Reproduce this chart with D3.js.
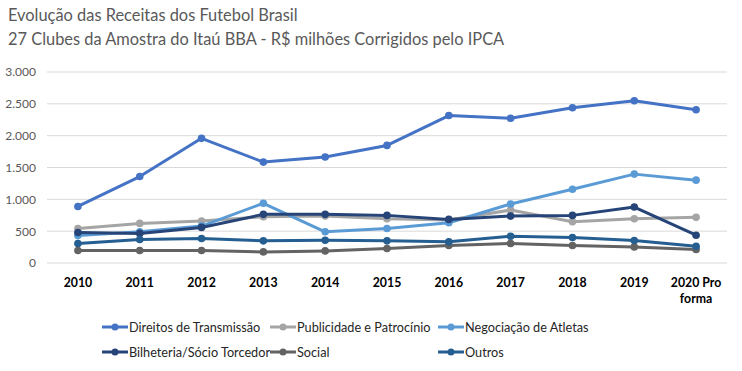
<!DOCTYPE html>
<html>
<head>
<meta charset="utf-8">
<script src="https://cdn.jsdelivr.net/npm/d3@7"></script>
<style>
  body { margin: 0; background: #fff; }
  svg { font-family: Lato, "Open Sans", sans-serif; }
</style>
</head>
<body>
<svg width="742" height="371"></svg>
<script>
const width = 742
const height = 371

const years = ["2010", "2011", "2012", "2013", "2014", "2015", "2016", "2017", "2018", "2019", "2020 Pro forma"]
const yTicks = [0, 500, 1000, 1500, 2000, 2500, 3000]

const seriesNames = ["Direitos de Transmissão", "Publicidade e Patrocínio", "Negociação de Atletas",
                     "Bilheteria/Sócio Torcedor", "Social", "Outros"]
const seriesColors = ["#4472C4", "#A5A5A5", "#5B9BD5", "#264478", "#636363", "#255E91"]

const direitos    = [888, 1358, 1958, 1585, 1664, 1847, 2316, 2274, 2438, 2548, 2406]
const publicidade = [543, 622, 658, 726, 740, 695, 674, 832, 647, 695, 717]
const negociacao  = [430, 490, 580, 938, 490, 543, 632, 927, 1159, 1396, 1301]
const bilheteria  = [480, 465, 559, 764, 764, 748, 685, 737, 748, 879, 437]
const social      = [196, 196, 196, 174, 190, 227, 275, 306, 275, 253, 212]
const outros      = [306, 370, 385, 348, 358, 348, 332, 421, 401, 353, 264]

const allSeries = [direitos, publicidade, negociacao, bilheteria, social, outros]

function draw(){
    var svg = d3.select("svg")

    // titulo
    svg.append("text").attr("x", 8).attr("y", 21)
       .attr("font-size", 16.4).attr("fill", "#595959")
       .text("Evolução das Receitas dos Futebol Brasil")
    svg.append("text").attr("x", 8).attr("y", 45)
       .attr("font-size", 16.4).attr("fill", "#595959")
       .text("27 Clubes da Amostra do Itaú BBA - R$ milhões Corrigidos pelo IPCA")

    var scaleX = d3.scaleBand().domain(years).range([47, 727])
    var scaleY = d3.scaleLinear().domain([0, 3000]).range([263, 72])
    var cx = function(i){ return scaleX(years[i]) + scaleX.bandwidth() / 2 }

    // grid
    svg.append("g").selectAll("line").data(yTicks).enter().append("line")
       .attr("x1", 47).attr("x2", 727)
       .attr("y1", d => scaleY(d)).attr("y2", d => scaleY(d))
       .attr("stroke", "#d9d9d9").attr("stroke-width", 1)

    // eixo y
    var yAxis = svg.append("g").attr("transform", "translate(36,0)")
       .call(d3.axisLeft(scaleY).tickValues(yTicks).tickSize(0).tickPadding(0)
             .tickFormat(d => d3.format(",")(d).replace(",", ".")))
    yAxis.select(".domain").remove()
    yAxis.selectAll("text").attr("font-size", 12).attr("fill", "#595959")
         .attr("font-family", "Lato, sans-serif")

    // eixo x
    var xAxis = svg.append("g").attr("transform", "translate(0,273)")
       .call(d3.axisBottom(scaleX).tickSize(0).tickPadding(0).tickFormat(""))
    xAxis.select(".domain").remove()
    xAxis.selectAll(".tick").each(function(d){
        var parts = d === "2020 Pro forma" ? ["2020 Pro", "forma"] : [d]
        var t = d3.select(this).append("text").attr("fill", "#000")
           .attr("font-size", 12.3).attr("font-weight", "bold")
           .attr("font-family", "Lato, sans-serif").attr("text-anchor", "middle")
        parts.forEach(function(p, k){
            t.append("tspan").attr("x", 0).attr("y", 13.5 + k * 16).text(p)
        })
    })

    var line = d3.line().x((d, i) => cx(i)).y(d => scaleY(d))

    allSeries.forEach(function(vals, s){
        var g = svg.append("g")
        g.append("path").datum(vals).attr("d", line)
         .attr("fill", "none").attr("stroke", seriesColors[s])
         .attr("stroke-width", 3).attr("stroke-linejoin", "round").attr("stroke-linecap", "round")
        g.selectAll("circle").data(vals).enter().append("circle")
         .attr("cx", (d, i) => cx(i)).attr("cy", d => scaleY(d))
         .attr("r", 3.8).attr("fill", seriesColors[s])
    })

    // legenda
    var legX = [102, 270, 438]
    var legY = [327, 352]
    seriesNames.forEach(function(name, s){
        var lx = legX[s % 3], ly = legY[Math.floor(s / 3)]
        var g = svg.append("g").attr("transform", "translate(" + lx + "," + ly + ")")
        g.append("line").attr("x1", 0).attr("x2", 26).attr("y1", 0).attr("y2", 0)
         .attr("stroke", seriesColors[s]).attr("stroke-width", 3)
        g.append("circle").attr("cx", 13).attr("cy", 0).attr("r", 3.5).attr("fill", seriesColors[s])
        g.append("text").attr("x", 27).attr("y", 4.5).attr("font-size", 12.7)
         .attr("fill", "#262626").text(name)
    })
}

draw()
</script>
</body>
</html>
